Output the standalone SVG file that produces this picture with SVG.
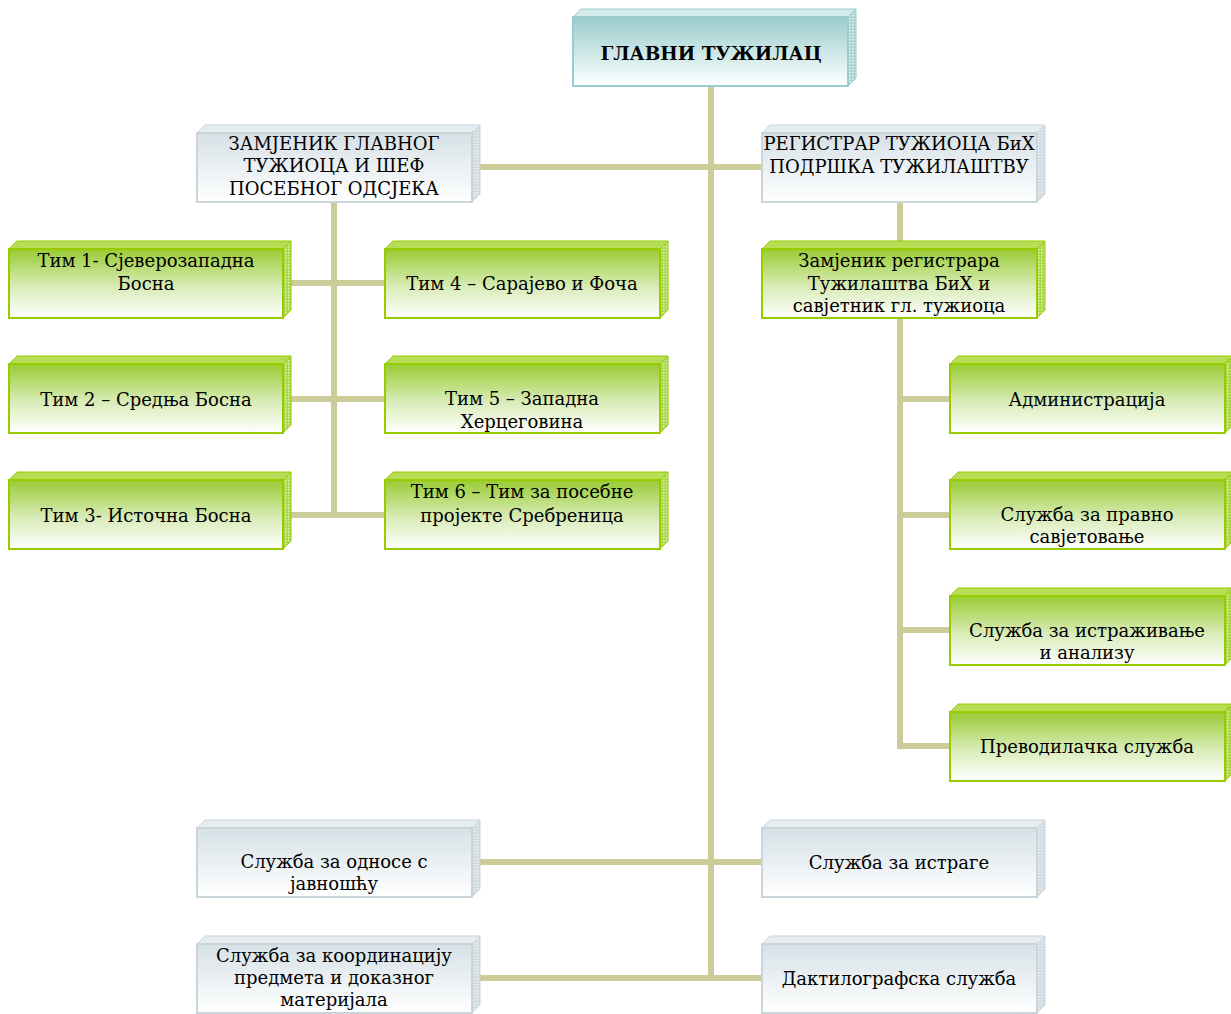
<svg xmlns="http://www.w3.org/2000/svg" width="1231" height="1014" viewBox="0 0 1231 1014">
<defs>
<linearGradient id="gG" x1="0" y1="0" x2="0" y2="1"><stop offset="0" stop-color="#99cc33"/><stop offset="0.55" stop-color="#d9ecb8"/><stop offset="1" stop-color="#ffffff"/></linearGradient>
<linearGradient id="gS" x1="0" y1="0" x2="0" y2="1"><stop offset="0" stop-color="#d6e1e6"/><stop offset="1" stop-color="#ffffff"/></linearGradient>
<linearGradient id="gT" x1="0" y1="0" x2="0" y2="1"><stop offset="0" stop-color="#99cccc"/><stop offset="0.6" stop-color="#d5ebeb"/><stop offset="1" stop-color="#ffffff"/></linearGradient>
<pattern id="pG" width="3" height="3" patternUnits="userSpaceOnUse"><rect width="3" height="3" fill="#a8d84a"/><rect width="1.5" height="1.5" fill="#dff0b8"/></pattern>
<pattern id="pS" width="3" height="3" patternUnits="userSpaceOnUse"><rect width="3" height="3" fill="#d0d9dd"/><rect width="1.5" height="1.5" fill="#f2f5f6"/></pattern>
<pattern id="pT" width="3" height="3" patternUnits="userSpaceOnUse"><rect width="3" height="3" fill="#a9d3d3"/><rect width="1.5" height="1.5" fill="#e6f3f3"/></pattern>
<style>
.fg{fill:url(#gG);stroke:#99cc00;stroke-width:2}
.tg{fill:#b5dd55;stroke:#99cc00;stroke-width:1}
.sg{fill:url(#pG);stroke:#99cc00;stroke-width:1}
.fs{fill:url(#gS);stroke:#c9d5da;stroke-width:2}
.ts{fill:#e6ecef;stroke:#c9d5da;stroke-width:1}
.ss{fill:url(#pS);stroke:#c9d5da;stroke-width:1}
.ft{fill:url(#gT);stroke:#99cccc;stroke-width:2}
.tt{fill:#d3eaea;stroke:#99cccc;stroke-width:1}
.st{fill:url(#pT);stroke:#99cccc;stroke-width:1}
text{font-family:"DejaVu Serif","Liberation Serif",serif;font-size:18px;fill:#000;text-anchor:middle}
.b{font-weight:bold;font-size:18.5px}
.c{fill:none;stroke:#cccc99;stroke-width:6}
</style>
</defs>

<g id="connectors">
<path class="c" d="M711,86V981M472,167H762M472,862H762M472,978H762"/>
<path class="c" d="M334,202V518M283,283H385M283,399H385M283,515H385"/>
<path class="c" d="M900,202V249M900,318V749M900,399H950M900,515H950M900,630H950M900,746H950"/>
</g>

<g id="n-main">
<polygon class="tt" points="573,17 581,9 856,9 848,17"/>
<polygon class="st" points="848,17 856,9 856,78 848,86"/>
<rect class="ft" x="573" y="17" width="275" height="69"/>
<text class="b" x="711" y="60">ГЛАВНИ ТУЖИЛАЦ</text>
</g>

<g id="n-zam">
<polygon class="ts" points="197,133 205,125 480,125 472,133"/>
<polygon class="ss" points="472,133 480,125 480,194 472,202"/>
<rect class="fs" x="197" y="133" width="275" height="69"/>
<text x="334" y="150">ЗАМЈЕНИК ГЛАВНОГ</text>
<text x="334" y="172">ТУЖИОЦА И ШЕФ</text>
<text x="334" y="195">ПОСЕБНОГ ОДСЈЕКА</text>
</g>

<g id="n-reg">
<polygon class="ts" points="762,133 770,125 1045,125 1037,133"/>
<polygon class="ss" points="1037,133 1045,125 1045,194 1037,202"/>
<rect class="fs" x="762" y="133" width="275" height="69"/>
<text x="899" y="150">РЕГИСТРАР ТУЖИОЦА БиХ</text>
<text x="899" y="173">ПОДРШКА ТУЖИЛАШТВУ</text>
</g>

<g id="n-t1">
<polygon class="tg" points="9,249 17,241 291,241 283,249"/>
<polygon class="sg" points="283,249 291,241 291,310 283,318"/>
<rect class="fg" x="9" y="249" width="274" height="69"/>
<text x="146" y="267">Тим 1- Сјеверозападна</text>
<text x="146" y="290">Босна</text>
</g>

<g id="n-t2">
<polygon class="tg" points="9,364 17,356 291,356 283,364"/>
<polygon class="sg" points="283,364 291,356 291,425 283,433"/>
<rect class="fg" x="9" y="364" width="274" height="69"/>
<text x="146" y="406">Тим 2 – Средња Босна</text>
</g>

<g id="n-t3">
<polygon class="tg" points="9,480 17,472 291,472 283,480"/>
<polygon class="sg" points="283,480 291,472 291,541 283,549"/>
<rect class="fg" x="9" y="480" width="274" height="69"/>
<text x="146" y="522">Тим 3- Источна Босна</text>
</g>

<g id="n-t4">
<polygon class="tg" points="385,249 393,241 668,241 660,249"/>
<polygon class="sg" points="660,249 668,241 668,310 660,318"/>
<rect class="fg" x="385" y="249" width="275" height="69"/>
<text x="522" y="290">Тим 4 – Сарајево и Фоча</text>
</g>

<g id="n-t5">
<polygon class="tg" points="385,364 393,356 668,356 660,364"/>
<polygon class="sg" points="660,364 668,356 668,425 660,433"/>
<rect class="fg" x="385" y="364" width="275" height="69"/>
<text x="522" y="405">Тим 5 – Западна</text>
<text x="522" y="428">Херцеговина</text>
</g>

<g id="n-t6">
<polygon class="tg" points="385,480 393,472 668,472 660,480"/>
<polygon class="sg" points="660,480 668,472 668,541 660,549"/>
<rect class="fg" x="385" y="480" width="275" height="69"/>
<text x="522" y="498">Тим 6 – Тим за посебне</text>
<text x="522" y="522">пројекте Сребреница</text>
</g>

<g id="n-zamreg">
<polygon class="tg" points="762,249 770,241 1045,241 1037,249"/>
<polygon class="sg" points="1037,249 1045,241 1045,310 1037,318"/>
<rect class="fg" x="762" y="249" width="275" height="69"/>
<text x="899" y="267">Замјеник регистрара</text>
<text x="899" y="290">Тужилаштва БиХ и</text>
<text x="899" y="312">савјетник гл. тужиоца</text>
</g>

<g id="n-adm">
<polygon class="tg" points="950,364 958,356 1231,356 1225,364"/>
<polygon class="sg" points="1225,364 1231,358 1231,427 1225,433"/>
<rect class="fg" x="950" y="364" width="275" height="69"/>
<text x="1087" y="406">Администрација</text>
</g>

<g id="n-pravno">
<polygon class="tg" points="950,480 958,472 1231,472 1225,480"/>
<polygon class="sg" points="1225,480 1231,474 1231,543 1225,549"/>
<rect class="fg" x="950" y="480" width="275" height="69"/>
<text x="1087" y="521">Служба за правно</text>
<text x="1087" y="543">савјетовање</text>
</g>

<g id="n-istr">
<polygon class="tg" points="950,596 958,588 1231,588 1225,596"/>
<polygon class="sg" points="1225,596 1231,590 1231,659 1225,665"/>
<rect class="fg" x="950" y="596" width="275" height="69"/>
<text x="1087" y="637">Служба за истраживање</text>
<text x="1087" y="659">и анализу</text>
</g>

<g id="n-prev">
<polygon class="tg" points="950,712 958,704 1231,704 1225,712"/>
<polygon class="sg" points="1225,712 1231,706 1231,775 1225,781"/>
<rect class="fg" x="950" y="712" width="275" height="69"/>
<text x="1087" y="753">Преводилачка служба</text>
</g>

<g id="n-javnost">
<polygon class="ts" points="197,828 205,820 480,820 472,828"/>
<polygon class="ss" points="472,828 480,820 480,889 472,897"/>
<rect class="fs" x="197" y="828" width="275" height="69"/>
<text x="334" y="868">Служба за односе с</text>
<text x="334" y="890">јавношћу</text>
</g>

<g id="n-istrage">
<polygon class="ts" points="762,828 770,820 1045,820 1037,828"/>
<polygon class="ss" points="1037,828 1045,820 1045,889 1037,897"/>
<rect class="fs" x="762" y="828" width="275" height="69"/>
<text x="899" y="869">Служба за истраге</text>
</g>

<g id="n-koord">
<polygon class="ts" points="197,944 205,936 480,936 472,944"/>
<polygon class="ss" points="472,944 480,936 480,1005 472,1013"/>
<rect class="fs" x="197" y="944" width="275" height="69"/>
<text x="334" y="962">Служба за координацију</text>
<text x="334" y="984">предмета и доказног</text>
<text x="334" y="1006">материјала</text>
</g>

<g id="n-daktilo">
<polygon class="ts" points="762,944 770,936 1045,936 1037,944"/>
<polygon class="ss" points="1037,944 1045,936 1045,1005 1037,1013"/>
<rect class="fs" x="762" y="944" width="275" height="69"/>
<text x="899" y="985">Дактилографска служба</text>
</g>
</svg>
